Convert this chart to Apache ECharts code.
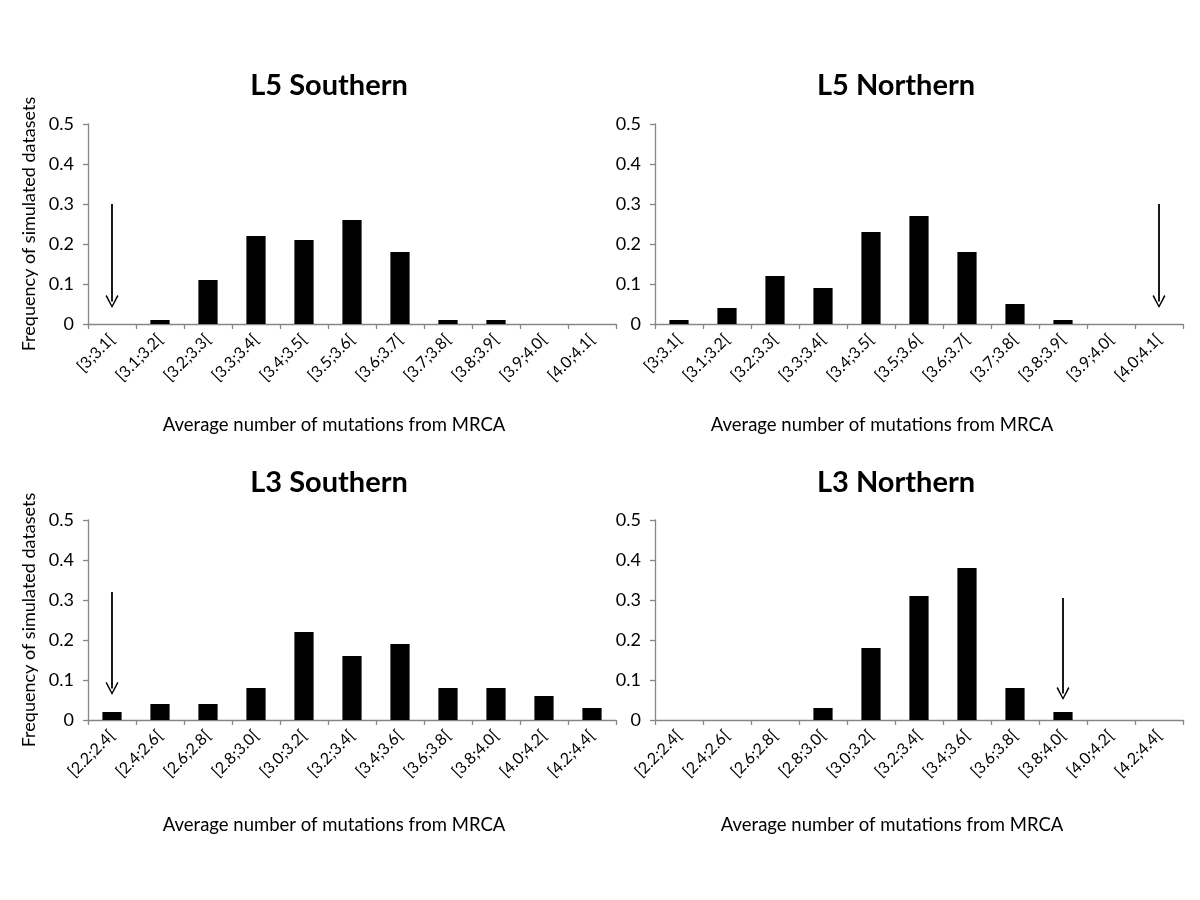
<!DOCTYPE html>
<html>
<head>
<meta charset="utf-8">
<script src="https://cdn.jsdelivr.net/npm/echarts@6/dist/echarts.min.js"></script>
<style>
html,body{margin:0;padding:0;background:#fff;}
#chart{width:1200px;height:900px;}
</style>
</head>
<body>
<div id="chart"></div>
<script>
// ---- data ----
const titles = ['L5 Southern', 'L5 Northern', 'L3 Southern', 'L3 Northern'];
const catsL5 = ['[3;3.1[', '[3.1;3.2[', '[3.2;3.3[', '[3.3;3.4[', '[3.4;3.5[', '[3.5;3.6[', '[3.6;3.7[', '[3.7;3.8[', '[3.8;3.9[', '[3.9;4.0[', '[4.0;4.1['];
const catsL3 = ['[2.2;2.4[', '[2.4;2.6[', '[2.6;2.8[', '[2.8;3.0[', '[3.0;3.2[', '[3.2;3.4[', '[3.4;3.6[', '[3.6;3.8[', '[3.8;4.0[', '[4.0;4.2[', '[4.2;4.4['];
const l5Southern = [0, 0.01, 0.11, 0.22, 0.21, 0.26, 0.18, 0.01, 0.01, 0, 0];
const l5Northern = [0.01, 0.04, 0.12, 0.09, 0.23, 0.27, 0.18, 0.05, 0.01, 0, 0];
const l3Southern = [0.02, 0.04, 0.04, 0.08, 0.22, 0.16, 0.19, 0.08, 0.08, 0.06, 0.03];
const l3Northern = [0, 0, 0, 0.03, 0.18, 0.31, 0.38, 0.08, 0.02, 0, 0];
const yTicks = [0, 0.1, 0.2, 0.3, 0.4, 0.5];
// observed-value arrows: category index, shaft start value, arrowhead centre value
const arrowCat = [0, 10, 0, 8];
const arrowFrom = [0.30, 0.30, 0.32, 0.305];
const arrowTo = [0.056, 0.056, 0.079, 0.066];
const xTitle = 'Average number of mutations from MRCA';
const yTitle = 'Frequency of simulated datasets';

const panelCats = [catsL5, catsL5, catsL3, catsL3];
const panelVals = [l5Southern, l5Northern, l3Southern, l3Northern];

// ---- layout ----
const FONT = 'Lato, "Open Sans", sans-serif';
const gridPos = [
  {left: 88, top: 124},
  {left: 655, top: 124},
  {left: 88, top: 520},
  {left: 655, top: 520}
];
const titleX = [324, 891, 324, 891];
const titleY = [66, 66, 463, 463];
const xTitleX = [329, 877, 329, 887];
const xTitleY = [411, 411, 811, 811];

const axisGray = '#868686';
const arrowPath = 'path://M0,0 L6,11 L4.8,11.7 L0,2.6 L-4.8,11.7 L-6,11 Z';

const option = {
  backgroundColor: '#ffffff',
  animation: false,
  title: [],
  grid: [],
  xAxis: [],
  yAxis: [],
  series: []
};

for (let i = 0; i < 4; i++) {
  option.title.push({
    text: titles[i], left: titleX[i], top: titleY[i], textAlign: 'center',
    textStyle: {fontFamily: FONT, fontSize: 29, fontWeight: 'bold', color: '#000'}
  });
  option.title.push({
    text: xTitle, left: xTitleX[i], top: xTitleY[i], textAlign: 'center',
    textStyle: {fontFamily: FONT, fontSize: 18.5, fontWeight: 'normal', color: '#000'}
  });
  option.grid.push({left: gridPos[i].left, top: gridPos[i].top, width: 528, height: 200, containLabel: false});
  option.xAxis.push({
    type: 'category', gridIndex: i, data: panelCats[i], boundaryGap: true,
    axisLine: {show: true, lineStyle: {color: axisGray, width: 1.3}},
    axisTick: {show: true, alignWithLabel: false, length: 5, lineStyle: {color: axisGray, width: 1.3}},
    axisLabel: {rotate: 45, margin: 13, fontFamily: FONT, fontSize: 16, color: '#000', interval: 0},
    splitLine: {show: false}
  });
  option.yAxis.push({
    type: 'value', gridIndex: i, min: yTicks[0], max: yTicks[yTicks.length - 1], interval: 0.1,
    name: (i % 2 === 0) ? yTitle : '', nameLocation: 'middle', nameGap: 50,
    nameTextStyle: {fontFamily: FONT, fontSize: 18, color: '#000'},
    axisLine: {show: true, lineStyle: {color: axisGray, width: 1.3}},
    axisTick: {show: true, length: 5, lineStyle: {color: axisGray, width: 1.3}},
    axisLabel: {margin: 14, fontFamily: FONT, fontSize: 18, color: '#000',
      formatter: v => (v === 0 ? '0' : v.toFixed(1))},
    splitLine: {show: false}
  });
  option.series.push({
    type: 'bar', xAxisIndex: i, yAxisIndex: i, data: panelVals[i],
    barWidth: '40%',
    itemStyle: {color: '#000'},
    silent: true,
    markLine: {
      silent: true, animation: false,
      symbol: ['none', arrowPath], symbolSize: [13, 13],
      label: {show: false},
      lineStyle: {color: '#000', width: 1.8, type: 'solid'},
      data: [[
        {coord: [panelCats[i][arrowCat[i]], arrowFrom[i]]},
        {coord: [panelCats[i][arrowCat[i]], arrowTo[i]]}
      ]]
    }
  });
}

const chart = echarts.init(document.getElementById('chart'), null, {renderer: 'canvas'});
chart.setOption(option);
</script>
</body>
</html>
